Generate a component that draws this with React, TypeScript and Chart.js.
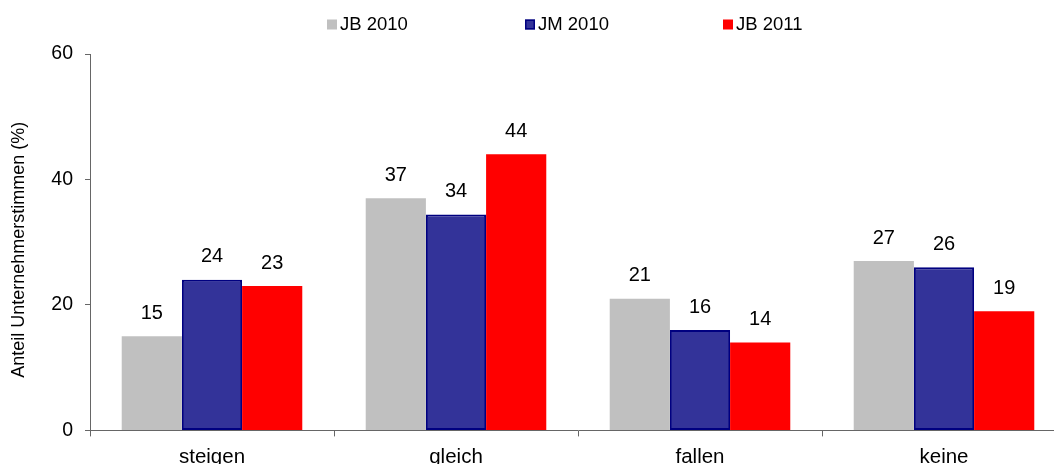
import React, { useEffect, useRef } from "react";
import { Chart, registerables } from "chart.js";

Chart.register(...registerables);

const categories = ["steigen", "gleich", "fallen", "keine"];
const seriesNames = ["JB 2010", "JM 2010", "JB 2011"];
const jb2010 = [15, 37, 21, 27];
const jm2010 = [24, 34.4, 16, 26];
const jb2011 = [23, 44, 14, 19];
const yTicks = [0, 20, 40, 60];
const yTitle = "Anteil Unternehmerstimmen (%)";

const FONT = "'Liberation Sans', Arial, Helvetica, sans-serif";
const AXIS_COLOR = "#666666";

const valueLabels = {
  id: "valueLabels",
  afterDatasetsDraw(chart: any) {
    const ctx = chart.ctx;
    ctx.save();
    ctx.font = `20px ${FONT}`;
    ctx.fillStyle = "#000000";
    ctx.textAlign = "center";
    ctx.textBaseline = "middle";
    chart.data.datasets.forEach((ds: any, i: number) => {
      const meta = chart.getDatasetMeta(i);
      meta.data.forEach((el: any, j: number) => {
        const v = ds.data[j] as number;
        ctx.fillText(v.toFixed(0), el.x, el.y - 23);
      });
    });
    ctx.restore();
  },
};

const topLegend = {
  id: "topLegend",
  afterDraw(chart: any) {
    const ctx = chart.ctx;
    const area = chart.chartArea;
    ctx.save();
    ctx.font = `18.5px ${FONT}`;
    ctx.textAlign = "left";
    ctx.textBaseline = "middle";
    const startX = area.left + 237;
    const step = 198;
    const cy = 24.5;
    chart.data.datasets.forEach((ds: any, i: number) => {
      const x = startX + i * step;
      const bw = ds.borderWidth || 0;
      ctx.fillStyle = ds.backgroundColor;
      ctx.fillRect(x, cy - 5, 10, 10);
      if (bw > 0) {
        ctx.strokeStyle = ds.borderColor;
        ctx.lineWidth = 1.5;
        ctx.strokeRect(x + 0.75, cy - 4.25, 8.5, 8.5);
      }
      ctx.fillStyle = "#000000";
      ctx.fillText(ds.label, x + 13, cy);
    });
    ctx.restore();
  },
};

export default function App() {
  const canvasRef = useRef<HTMLCanvasElement | null>(null);

  useEffect(() => {
    const canvas = canvasRef.current;
    if (!canvas) return;
    const chart = new Chart(canvas, {
      type: "bar",
      data: {
        labels: categories,
        datasets: [
          {
            label: seriesNames[0],
            data: jb2010,
            backgroundColor: "#C0C0C0",
            borderWidth: 0,
          },
          {
            label: seriesNames[1],
            data: jm2010,
            backgroundColor: "#333399",
            borderColor: "#000080",
            borderWidth: 2,
            borderSkipped: false,
          },
          {
            label: seriesNames[2],
            data: jb2011,
            backgroundColor: "#FF0000",
            borderWidth: 0,
          },
        ],
      },
      options: {
        responsive: false,
        animation: false,
        layout: { padding: { top: 54, left: 0, right: 0, bottom: 0 } },
        datasets: {
          bar: { categoryPercentage: 0.74, barPercentage: 1 },
        },
        plugins: {
          legend: { display: false },
          tooltip: { enabled: false },
        },
        scales: {
          x: {
            grid: {
              display: true,
              drawOnChartArea: false,
              drawTicks: true,
              tickLength: 6,
              color: AXIS_COLOR,
              offset: true,
            },
            border: { display: true, color: AXIS_COLOR, width: 1 },
            ticks: {
              color: "#000000",
              font: { family: FONT, size: 20.5 },
              padding: 9,
              maxRotation: 0,
            },
          },
          y: {
            min: yTicks[0],
            max: yTicks[yTicks.length - 1],
            afterBuildTicks(scale: any) {
              scale.ticks = yTicks.map((v) => ({ value: v }));
            },
            afterFit(scale: any) {
              scale.width = 90;
            },
            grid: {
              display: true,
              drawOnChartArea: false,
              drawTicks: true,
              tickLength: 5,
              color: AXIS_COLOR,
            },
            border: { display: true, color: AXIS_COLOR, width: 1 },
            ticks: {
              color: "#000000",
              font: { family: FONT, size: 19.5 },
              padding: 12,
            },
            title: {
              display: true,
              text: yTitle + "   ",
              color: "#000000",
              font: { family: FONT, size: 18 },
              padding: { top: 8, bottom: 0 },
            },
          },
        },
      },
      plugins: [valueLabels, topLegend],
    });
    return () => chart.destroy();
  }, []);

  return (
    <div
      style={{
        position: "fixed",
        left: 0,
        top: 0,
        width: 1054,
        height: 464,
        overflow: "hidden",
        background: "#ffffff",
      }}
    >
      <canvas ref={canvasRef} width={1066} height={479} style={{ display: "block" }} />
    </div>
  );
}
